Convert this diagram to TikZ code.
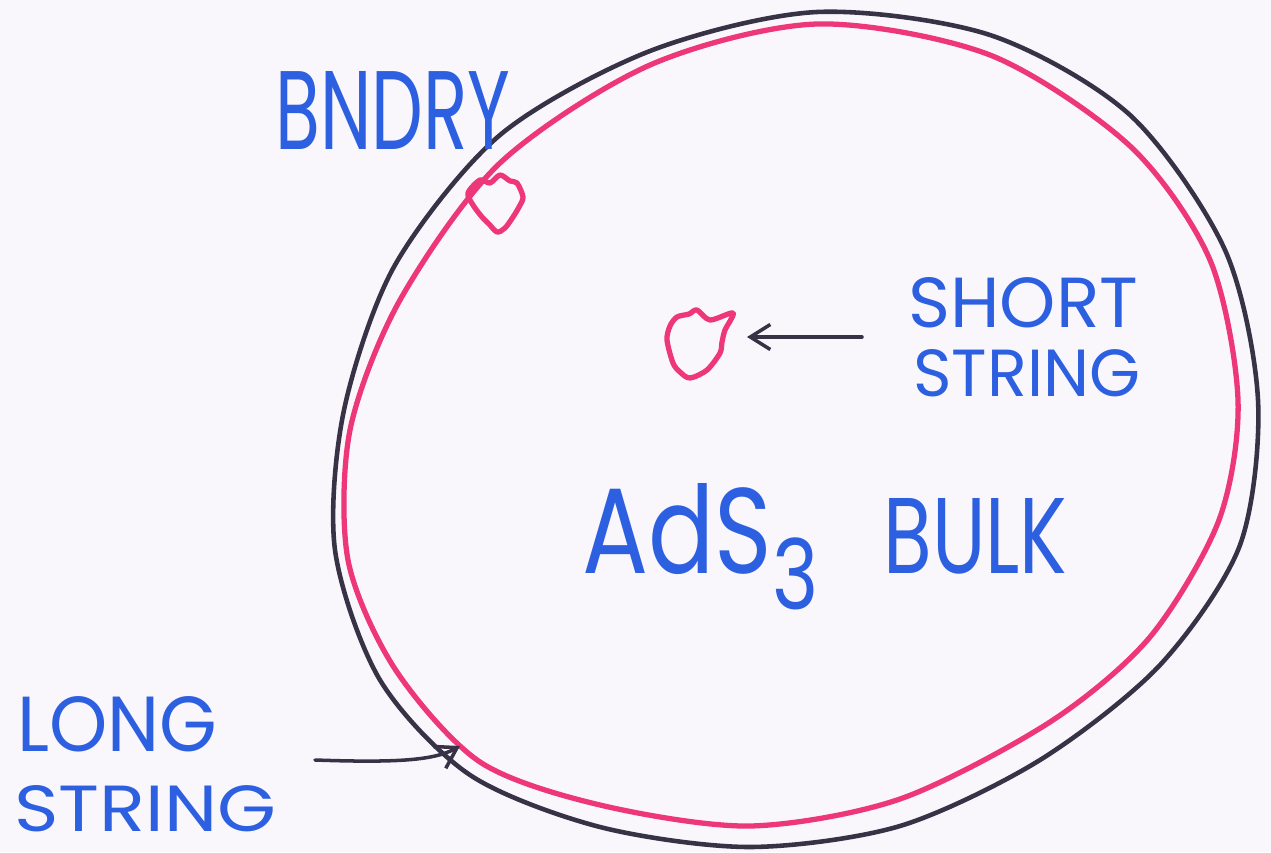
\documentclass[tikz,border=0pt]{standalone}
\usepackage{fontspec}
\usepackage{graphicx}
\usetikzlibrary{arrows.meta}
\newfontfamily\handfont{Poppins}
\newlength\pxu \setlength\pxu{0.02cm}
\newcommand\hw[3]{\resizebox{#1\pxu}{#2\pxu}{\handfont #3}}
\definecolor{penblue}{RGB}{45,95,225}
\definecolor{penpink}{RGB}{238,55,120}
\definecolor{penblack}{RGB}{55,50,70}
\definecolor{paper}{RGB}{249,247,251}

\begin{document}
\begin{tikzpicture}[x=0.02cm, y=-0.02cm,
  handtext/.style={text=penblue, inner sep=0pt},
  bndline/.style={draw=penblack, line width=2.6pt, line join=round},
  strline/.style={draw=penpink, line width=3pt, line join=round},
  penarrow/.style={draw=penblack, line width=2pt, line cap=round,
    -{Straight Barb[length=4mm, width=5mm]}}]
  \fill[paper] (0,0) rectangle (1271,852);
  \useasboundingbox (0,0) rectangle (1271,852);
  % boundary of AdS3, with the long string lying just inside it
  \draw[bndline] plot[smooth cycle] coordinates {
    (817,12) (990,35) (1130,115) (1225,250) (1258,400) (1240,545)
    (1160,665) (1040,760) (900,826) (750,847) (600,827) (470,775)
    (380,680) (335,550) (344,410) (395,265) (500,135) (650,51)};
  \draw[strline] plot[smooth cycle] coordinates {
    (817,24) (990,55) (1130,146) (1210,260) (1238,400) (1219,520)
    (1150,637) (1050,722) (900,799) (750,826) (600,805) (480,762)
    (395,669) (348,560) (350,430) (400,300) (500,163) (650,65)};
  % short strings: one near the boundary, one deep in the bulk
  \draw[strline] plot[smooth cycle] coordinates {
    (468,193) (480,180) (490,183) (500,175) (510,181) (517,183) (523,197)
    (519,207) (513,217) (505,228) (497,232) (489,224) (482,217) (473,205)};
  \draw[strline] plot[smooth cycle] coordinates {
    (667,340) (670,326) (677,317) (689,314) (697,310) (710,320) (733,313)
    (725,330) (722,342) (720,353) (707,370) (690,378) (680,372) (673,363)};
  % labels
  \node[handtext, anchor=south west] at (275,150) (bnd) {\hw{235}{78}{BNDRY}};
  \node[handtext, anchor=south west] at (908,328) (short) {\hw{230}{50}{SHORT}};
  \node[handtext, anchor=south west] at (913,397) (shortb) {\hw{227}{47}{STRING}};
  \node[handtext, anchor=base west] at (582,573) (ads)
    {\resizebox{236\pxu}{90\pxu}{\handfont AdS\raisebox{-.3em}{\scalebox{.8}{3}}}};
  \node[handtext, anchor=south west] at (883,575) (bulk) {\hw{184}{75}{BULK}};
  \node[handtext, anchor=south west] at (17,752) (long) {\hw{200}{55}{LONG}};
  \node[handtext, anchor=south west] at (14,832) (longb) {\hw{262}{46}{STRING}};
  % arrows
  \coordinate (shorttail) at (862,337);
  \coordinate (shorttip) at (747,337);
  \coordinate (longtail) at (315,760);
  \coordinate (longtip) at (460,746);
  \draw[penarrow] (shorttail) -- (shorttip);
  \draw[penarrow] (longtail) .. controls (400,763) and (435,760) .. (longtip);
\end{tikzpicture}
\end{document}
